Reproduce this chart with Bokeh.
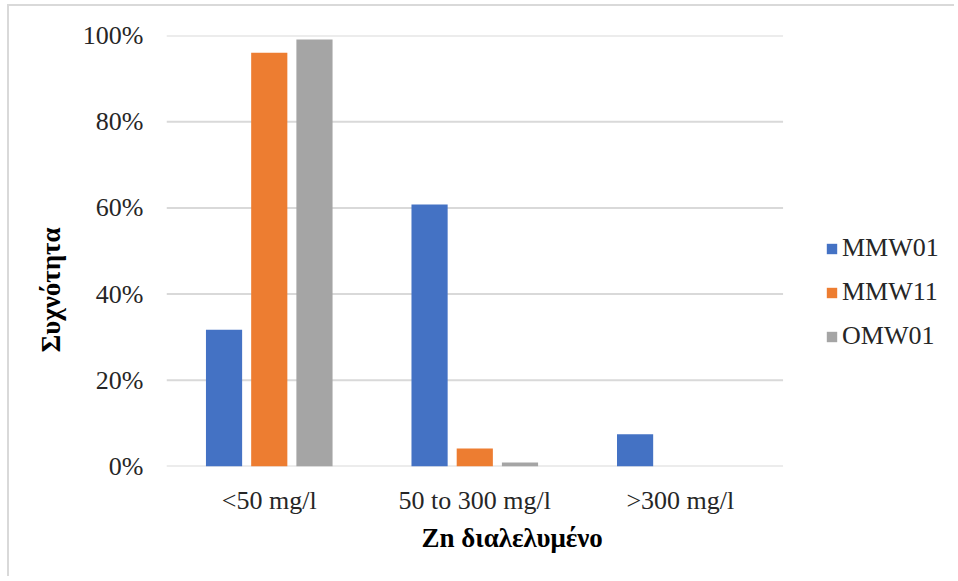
from bokeh.plotting import figure
from bokeh.models import ColumnDataSource, Legend, LegendItem, NumeralTickFormatter, FixedTicker, Range1d, Title
from bokeh.transform import dodge
from bokeh.embed import file_html
from bokeh.resources import INLINE

categories = ["<50 mg/l", "50 to 300 mg/l", ">300 mg/l"]
series = ["MMW01", "MMW11", "OMW01"]
mmw01 = [0.317, 0.608, 0.075]
mmw11 = [0.960, 0.042, 0.0]
omw01 = [0.991, 0.009, 0.0]
colors = ["#4472C4", "#ED7D31", "#A5A5A5"]
y_ticks = [0, 0.2, 0.4, 0.6, 0.8, 1.0]
y_title = "Συχνότητα"
x_title = "Zn διαλελυμένο"

FONT = "Liberation Serif"
FS = "26px"
FS_T = "27px"

idx = list(range(len(categories)))
src = ColumnDataSource(data=dict(x=idx, MMW01=mmw01, MMW11=mmw11, OMW01=omw01))

W, H = 945, 570
BL, BR, BT, BB = 157, 0, 29, 112
frame_w = W - BL - BR
cat_px = 205.0
x_start = -0.5
x_end = x_start + frame_w / cat_px

p = figure(x_range=Range1d(x_start, x_end), y_range=Range1d(0, 1.0),
           width=W, height=H, output_backend="svg", toolbar_location=None,
           min_border_left=BL, min_border_right=BR, min_border_top=BT, min_border_bottom=BB)
p.styles = {"border-top": "2px solid #d9d9d9", "border-left": "2px solid #d9d9d9",
            "box-sizing": "content-box", "margin-left": "7px", "margin-top": "4px"}

# horizontal gridlines only across the category area
n = len(categories)
p.segment(x0=[x_start] * len(y_ticks), x1=[n - 0.5] * len(y_ticks), y0=y_ticks, y1=y_ticks,
          line_color="#d9d9d9", line_width=2)

renderers = []
offsets = [-0.22, 0.0, 0.22]
for s, c, off in zip(series, colors, offsets):
    r = p.vbar(x=dodge("x", off), top=s, width=0.176, source=src,
               fill_color=c, line_color=None)
    renderers.append(r)

p.yaxis.ticker = FixedTicker(ticks=y_ticks)
p.yaxis.formatter = NumeralTickFormatter(format="0%")
p.xaxis.ticker = FixedTicker(ticks=idx)
p.xaxis.major_label_overrides = {i: c for i, c in zip(idx, categories)}

for ax in (p.xaxis[0], p.yaxis[0]):
    ax.axis_line_color = None
    ax.major_tick_line_color = None
    ax.minor_tick_line_color = None
    ax.major_tick_out = 0
    ax.major_tick_in = 0
    ax.minor_tick_out = 0
    ax.minor_tick_in = 0
    ax.major_label_text_font = FONT
    ax.major_label_text_font_size = FS
    ax.major_label_text_color = "#262626"

p.yaxis.major_label_standoff = 23
p.xaxis.major_label_standoff = 19

p.add_layout(Title(text=x_title, align="left", offset=255, standoff=6,
                   text_font=FONT, text_font_size=FS_T, text_font_style="bold",
                   text_color="#000000"), "below")
p.add_layout(Title(text=y_title, align="left", offset=114, standoff=28,
                   text_font=FONT, text_font_size=FS_T, text_font_style="bold",
                   text_color="#000000"), "left")

p.xgrid.grid_line_color = None
p.ygrid.grid_line_color = None
p.outline_line_color = None

legend = Legend(items=[LegendItem(label=s, renderers=[r]) for s, r in zip(series, renderers)],
                location=(659, 115), padding=0, margin=0, spacing=14,
                glyph_width=13, glyph_height=13, label_height=30, label_standoff=4,
                label_text_font=FONT, label_text_font_size=FS, label_text_color="#262626",
                border_line_color=None, background_fill_alpha=0)
p.add_layout(legend, "center")

open("out.html", "w").write(file_html(p, INLINE))
